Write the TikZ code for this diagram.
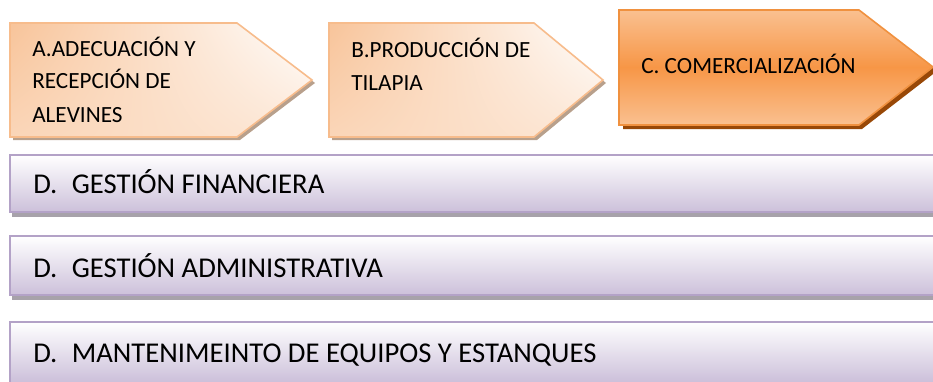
\documentclass[tikz,border=0pt]{standalone}
\usepackage{fontspec}
\setmainfont{Carlito}
\usepackage{tikz}
\usetikzlibrary{positioning,shadings}

\definecolor{peach}{HTML}{F8C49A}
\definecolor{peachline}{HTML}{F7BC8C}
\definecolor{peachshadow}{HTML}{B8A08C}
\definecolor{orangemid}{HTML}{F79646}
\definecolor{orangelight}{HTML}{FAC090}
\definecolor{orangeline}{HTML}{F0913F}
\definecolor{orangeshadow}{HTML}{984807}
\definecolor{lilac}{HTML}{CCC0DA}
\definecolor{lilacline}{HTML}{B3A2C7}
\definecolor{barshadow}{HTML}{A7A2AA}

\begin{document}
\begin{tikzpicture}[x=0.75pt, y=-0.75pt,
    stage/.style = {anchor=base west, inner sep=0pt, align=left,
                    font=\fontsize{17.4}{24.75}\selectfont},
    task/.style = {anchor=base west, inner sep=0pt,
                   font=\fontsize{21.5}{24}\selectfont},
    light/.style = {draw=peachline, line width=1.2pt,
                    upper left=peach, upper right=white,
                    lower left=peach!70, lower right=peach!40},
    strongtop/.style = {top color=orangelight, bottom color=orangemid},
    strongbot/.style = {top color=orangemid, bottom color=orangelight},
    band/.style = {top color=white, bottom color=lilac}]
    \useasboundingbox (0,0) rectangle (933,382);

    % process arrows
    \fill[peachshadow] (13,26) -- (240,26) -- (315,83) -- (240,140) -- (13,140) -- cycle;
    \shade[light] (10,23) -- (237,23) -- (312,80) -- (237,137) -- (10,137) -- cycle;
    \node[stage] (adecuacion) at (32,122) {A.ADECUACIÓN Y\\RECEPCIÓN DE\\ALEVINES};

    \fill[peachshadow] (332,26) -- (537,26) -- (606,83) -- (537,140) -- (332,140) -- cycle;
    \shade[light] (329,23) -- (534,23) -- (603,80) -- (534,137) -- (329,137) -- cycle;
    \node[stage] (produccion) at (351,90) {B.PRODUCCIÓN DE\\TILAPIA};

    \fill[orangeshadow] (623,14) -- (862,14) -- (937,71) -- (862,129) -- (623,129) -- cycle;
    \shade[strongtop] (619,10) -- (859,10) -- (933,67.5) -- (619,67.5) -- cycle;
    \shade[strongbot] (619,67) -- (933,67) -- (859,125) -- (619,125) -- cycle;
    \draw[orangeline, line width=1.2pt] (619,10) -- (859,10) -- (933,67) -- (859,125) -- (619,125) -- cycle;
    \node[stage] (comercializacion) at (641,73) {C. COMERCIALIZACIÓN};

    % support bars
    \fill[barshadow] (12,212) rectangle (933,217);
    \shade[band] (10,155) rectangle (933,212);
    \draw[lilacline, line width=1.5pt] (933,155) -- (10,155) -- (10,212) -- (933,212);
    \node[task] (financiera) at (33,193) {D.\hspace{0.5em}GESTIÓN FINANCIERA};

    \fill[barshadow] (12,295) rectangle (933,300);
    \shade[band] (10,236) rectangle (933,295);
    \draw[lilacline, line width=1.5pt] (933,236) -- (10,236) -- (10,295) -- (933,295);
    \node[task] (administrativa) at (33,277) {D.\hspace{0.5em}GESTIÓN ADMINISTRATIVA};

    \shade[band] (10,322) rectangle (933,382);
    \draw[lilacline, line width=1.5pt] (933,322) -- (10,322) -- (10,382);
    \node[task] (mantenimiento) at (33,362) {D.\hspace{0.5em}MANTENIMEINTO DE EQUIPOS Y ESTANQUES};
\end{tikzpicture}
\end{document}
